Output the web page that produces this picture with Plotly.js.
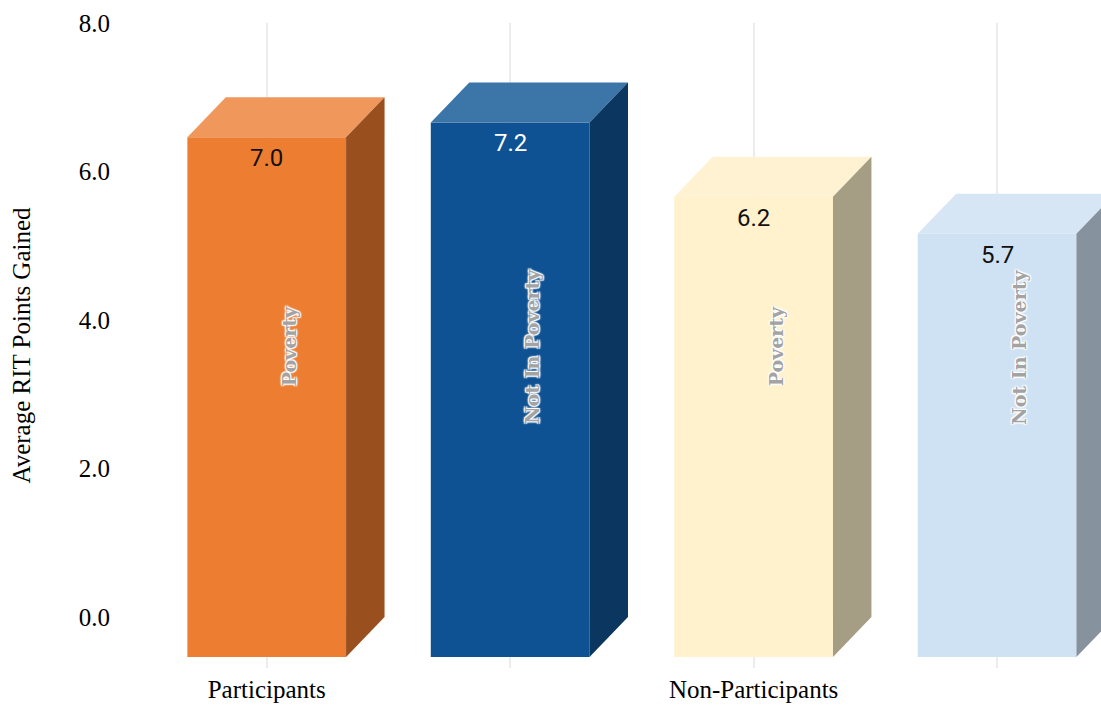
<!DOCTYPE html>
<html>
<head>
<meta charset="utf-8">
<script src="https://cdn.plot.ly/plotly-3.0.1.min.js"></script>
<style>html,body{margin:0;padding:0;background:#fff;}#chart{width:1101px;height:706px;}</style>
</head>
<body>
<div id="chart"></div>
<script>
// ---- data ----
var groups = ["Participants", "", "Non-Participants", ""];
var seriesNames = ["Poverty", "Not In Poverty", "Poverty", "Not In Poverty"];
var values = [7.0, 7.2, 6.2, 5.7];
var valueLabels = ["7.0", "7.2", "6.2", "5.7"];
var yTickVals = [0, 2, 4, 6, 8];
var yTickText = ["0.0", "2.0", "4.0", "6.0", "8.0"];

// ---- styles ----
var frontColors = ["#ED7D31", "#0E5294", "#FFF2CC", "#CFE2F3"];
var topColors   = ["#F0975B", "#3C76A9", "#FFF2D2", "#D7E6F5"];
var sideColors  = ["#9A4F1F", "#0A365F", "#A59E84", "#87929F"];
var valueColors = ["#111111", "#ffffff", "#111111", "#111111"];

var barW = 0.652;   // front face width (category units)
var dx = 0.158;     // depth offset x (category units)
var dy = 0.539;     // depth offset y (value units)

var xs = values.map(function(_, i){ return i; });
var traces = [];

// front faces
traces.push({
  type: 'bar', x: xs, y: values, base: values.map(function(){ return -dy; }),
  width: barW, marker: {color: frontColors, line: {width: 0}},
  hoverinfo: 'skip', showlegend: false
});

values.forEach(function(v, i){
  var l = i - barW/2, r = i + barW/2;
  // top face
  traces.push({
    type: 'scatter', mode: 'lines', fill: 'toself',
    x: [l, l+dx, r+dx, r, l], y: [v-dy, v, v, v-dy, v-dy],
    fillcolor: topColors[i], line: {width: 0, color: topColors[i]},
    hoverinfo: 'skip', showlegend: false
  });
  // side face
  traces.push({
    type: 'scatter', mode: 'lines', fill: 'toself',
    x: [r, r+dx, r+dx, r, r], y: [-dy, 0, v, v-dy, -dy],
    fillcolor: sideColors[i], line: {width: 0, color: sideColors[i]},
    hoverinfo: 'skip', showlegend: false
  });
});

var annotations = [];
values.forEach(function(v, i){
  annotations.push({
    x: i, y: v - dy, xref: 'x', yref: 'y', yshift: -21,
    text: valueLabels[i], showarrow: false, yanchor: 'middle',
    font: {family: 'Roboto, sans-serif', size: 24, color: valueColors[i]}
  });
  annotations.push({
    x: i + 0.09, y: 3.64, xref: 'x', yref: 'y',
    text: seriesNames[i], showarrow: false, textangle: -90,
    xanchor: 'center', yanchor: 'middle',
    font: {family: 'DejaVu Serif, serif', size: 19, weight: 'bold', color: '#a3a3a3',
           shadow: '1px 1px 1px #fff, -1px -1px 1px #fff, 1px -1px 1px #fff, -1px 1px 1px #fff, 0 0 3px #fff'}
  });
});

var layout = {
  width: 1101, height: 706,
  margin: {l: 145, r: 0, t: 23, b: 38},
  paper_bgcolor: '#fff', plot_bgcolor: '#fff',
  showlegend: false,
  xaxis: {
    range: [-0.5, 3.427], tickvals: xs, ticktext: groups,
    showgrid: true, gridcolor: '#ececec', gridwidth: 2,
    zeroline: false, showline: false, ticks: '',
    ticklabelstandoff: 4,
    tickfont: {family: 'Liberation Serif, serif', size: 25, color: '#000'},
    fixedrange: true
  },
  yaxis: {
    range: [-0.687, 8], tickvals: yTickVals, ticktext: yTickText,
    showgrid: false, zeroline: false, showline: false, ticks: '',
    ticklabelstandoff: 34,
    tickfont: {family: 'Liberation Serif, serif', size: 25, color: '#000'},
    title: {text: 'Average RIT Points Gained', standoff: 41,
            font: {family: 'Liberation Serif, serif', size: 25, color: '#000'}},
    fixedrange: true
  },
  annotations: annotations
};

Plotly.newPlot('chart', traces, layout, {displayModeBar: false, staticPlot: true});
</script>
</body>
</html>
